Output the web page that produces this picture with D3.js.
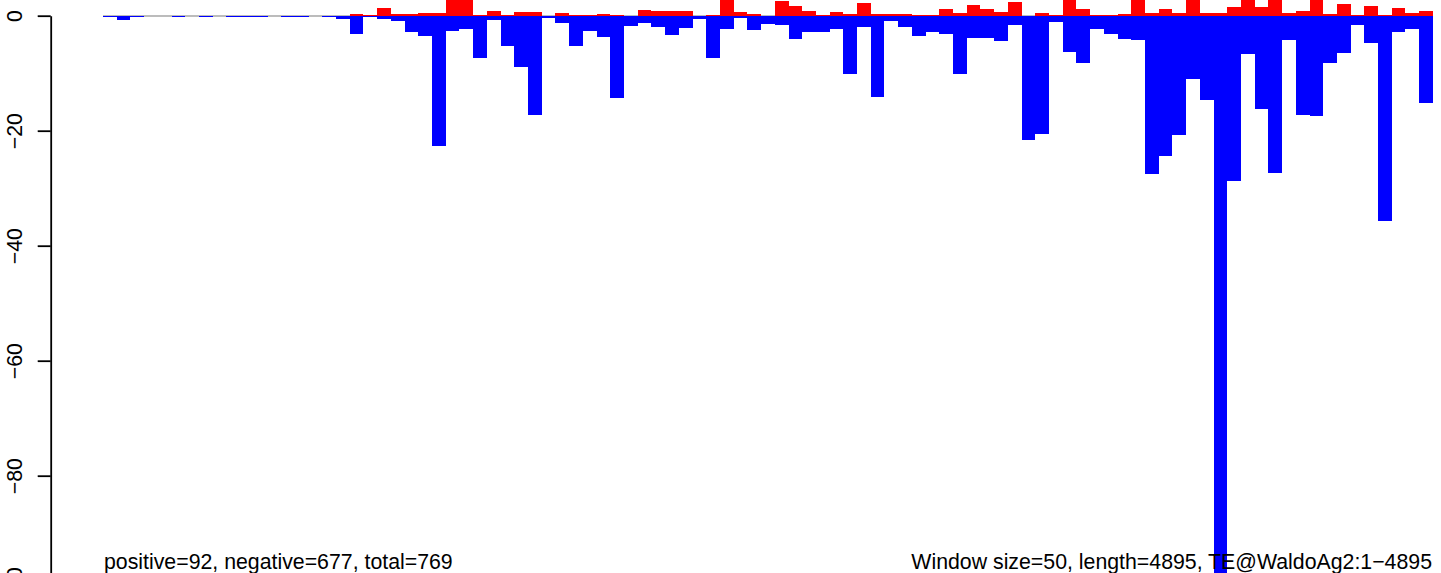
<!DOCTYPE html>
<html>
<head>
<meta charset="utf-8">
<script src="https://cdn.jsdelivr.net/npm/d3@7"></script>
<style>
  html, body { margin: 0; padding: 0; background: #fff; }
  svg { display: block; }
  text { font-family: "Liberation Sans", Arial, Helvetica, sans-serif; }
</style>
</head>
<body>
<svg id="chart" width="1441" height="573"></svg>
<script>
// Window index (window size 50 along length 4895)
const windowSize = 50;
const seqLength = 4895;
const nWindows = 97;

// Positive-strand values per window
const positiveValues = [
  0, 0, 0, 0, 0, 0, 0, 0, 0, 0, 0, 0, 0, 0, 0, 0, 0, 0,
  0.3, 0.1, 1.4, 0.3, 0.3, 0.45, 0.45, 8, 6, 0.1,
  0.8, 0.1, 0.65, 0.65, 0, 0.45, 0.1, 0.1, 0.3, 0.1,
  0, 1.0, 0.8, 0.8, 0.8, 0, 0.1, 4, 0.65, 0.3,
  0, 2.55, 1.7, 0.8, 0.1, 0.65, 0.3, 2.2, 0.3, 0.3,
  0.3, 0.1, 0.1, 1.15, 0.45, 1.85, 1.15, 0.65, 2.4, 0,
  0.45, 0.1, 5, 1.15, 0.1, 0.1, 0.3, 6, 0.45, 1.15,
  0.45, 4, 0.45, 0.45, 1.5, 5, 1.5, 5, 0.45, 0.8,
  4.5, 0.3, 2.0, 0.1, 1.7, 0.1, 1.3, 0.45, 0.8
];

// Negative-strand values per window
const negativeValues = [
  -0.2, -0.7, -0.2, 0, 0, -0.2, 0, -0.2, 0, -0.2, -0.2, -0.2, 0, -0.2, -0.2, 0, -0.2, -0.5,
  -3.1, -0.15, -0.6, -0.9, -2.8, -3.5, -22.6, -2.6, -2.3, -7.3,
  -0.7, -5.2, -8.9, -17.2, -0.35, -1.2, -5.2, -2.6, -3.65, -14.3,
  -1.75, -1.2, -1.9, -3.3, -2.1, -0.5, -7.3, -2.3, -0.35, -2.4,
  -1.4, -1.6, -4.0, -2.8, -2.8, -2.3, -10.1, -1.9, -14.1, -0.9,
  -1.9, -3.5, -2.8, -3.1, -10.1, -3.9, -3.9, -4.35, -1.6, -21.6,
  -20.5, -1.05, -6.3, -8.2, -2.3, -3.1, -4.0, -4.2, -27.5, -24.4,
  -20.7, -11.0, -14.7, -104.7, -28.7, -6.7, -16.2, -27.3, -4.2, -17.3,
  -17.4, -8.2, -6.5, -1.6, -4.7, -35.7, -2.8, -2.3, -15.1
];

const yTicks = [0, -20, -40, -60, -80, -100];
const leftNote = "positive=92, negative=677, total=769";
const rightNote = "Window size=50, length=4895, TE@WaldoAg2:1\u22124895";

const svg = d3.select("#chart");
const FONT = 21.3;

const x = d3.scaleLinear().domain([0, nWindows * windowSize]).range([103, 1432.9]);
const y = d3.scaleLinear().domain([0, -100]).range([15.7, 590.7]);

const windows = d3.range(nWindows).map(i => ({
  i, start: i * windowSize, end: (i + 1) * windowSize,
  pos: positiveValues[i], neg: negativeValues[i]
}));

// baseline
svg.append("line")
  .attr("x1", x(0)).attr("x2", x(nWindows * windowSize))
  .attr("y1", y(0) + 0.3).attr("y2", y(0) + 0.3)
  .attr("stroke", "#a6a6a6").attr("stroke-width", 1.4);

// negative bars
svg.append("g").attr("shape-rendering", "crispEdges")
  .selectAll("rect").data(windows.filter(d => d.neg < 0)).join("rect")
  .attr("x", d => x(d.start))
  .attr("width", d => x(d.end) - x(d.start))
  .attr("y", y(0))
  .attr("height", d => Math.max(1, y(d.neg) - y(0)))
  .attr("fill", "#0000ff");

// positive bars
svg.append("g").attr("shape-rendering", "crispEdges")
  .selectAll("rect").data(windows.filter(d => d.pos > 0)).join("rect")
  .attr("x", d => x(d.start))
  .attr("width", d => x(d.end) - x(d.start))
  .attr("y", d => y(d.pos))
  .attr("height", d => y(0) - y(d.pos))
  .attr("fill", "#ff0000");

// y axis
const axisX = 50.7;
const axis = d3.axisLeft(y).tickValues(yTicks).tickSize(13).tickSizeOuter(0)
  .tickFormat(d3.format("d"));
const ag = svg.append("g").attr("transform", `translate(${axisX},0)`).call(axis);
ag.select(".domain").attr("stroke", "#000").attr("stroke-width", 1.8);
ag.selectAll(".tick line").attr("stroke", "#000").attr("stroke-width", 1.8);
ag.selectAll(".tick text")
  .attr("transform", "rotate(-90)")
  .attr("x", 0).attr("y", -(axisX - 21.7)).attr("dy", null)
  .attr("text-anchor", "middle")
  .attr("font-size", FONT)
  .attr("font-family", "Liberation Sans, Arial, Helvetica, sans-serif")
  .attr("fill", "#000");

// notes
svg.append("text").attr("x", 104).attr("y", 569)
  .attr("font-size", FONT).attr("fill", "#000").text(leftNote);
svg.append("text").attr("x", 1432).attr("y", 569).attr("text-anchor", "end")
  .attr("font-size", FONT).attr("fill", "#000").text(rightNote);
</script>
</body>
</html>
